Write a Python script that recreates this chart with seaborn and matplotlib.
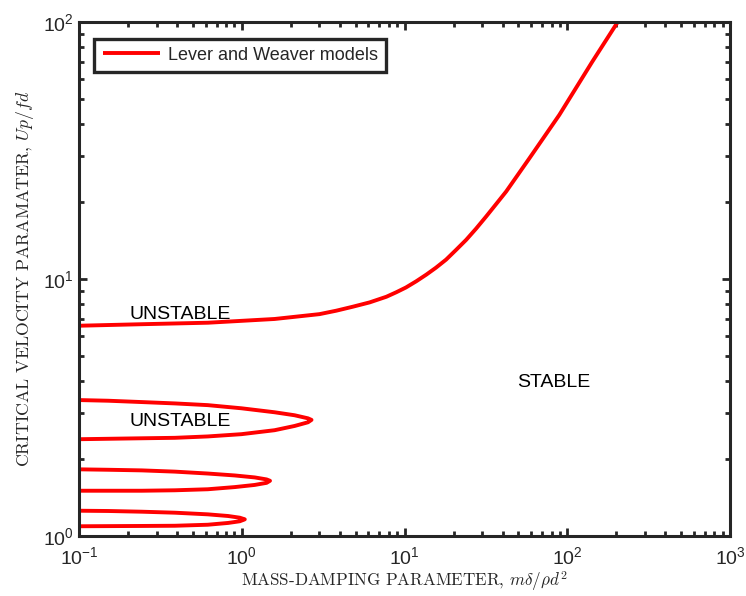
import matplotlib
matplotlib.use("Agg")
import matplotlib.pyplot as plt
import seaborn as sns

# Main stability boundary
main_x = [0.1, 0.243, 0.62, 1.59, 3.0, 3.81, 4.8, 6.10, 7.73, 8.89, 10.2, 11.8, 13.6, 15.6,
          18.0, 20.7, 23.9, 27.5, 31.7, 36.6, 42.1, 58.5, 89.3, 142, 204]
main_y = [6.58, 6.67, 6.76, 6.99, 7.3, 7.53, 7.8, 8.11, 8.53, 8.88, 9.27, 9.80, 10.4, 11.07,
          11.9, 12.97, 14.2, 15.7, 17.5, 19.6, 21.9, 29.5, 43.5, 69.9, 100]

# Lower instability loops
loop1_x = [0.1, 0.151, 0.243, 0.388, 0.618, 0.995, 1.59, 2.11, 2.55, 2.68,
           2.55, 2.11, 1.59, 0.995, 0.618, 0.388, 0.243, 0.1]
loop1_y = [3.38, 3.36, 3.32, 3.28, 3.23, 3.14, 3.03, 2.95, 2.87, 2.83,
           2.77, 2.68, 2.58, 2.49, 2.44, 2.41, 2.40, 2.38]

loop2_x = [0.1, 0.151, 0.243, 0.388, 0.618, 0.906, 1.20, 1.42, 1.49,
           1.42, 1.20, 0.906, 0.618, 0.388, 0.243, 0.1]
loop2_y = [1.817, 1.81, 1.80, 1.78, 1.75, 1.72, 1.69, 1.66, 1.64,
           1.61, 1.58, 1.55, 1.52, 1.506, 1.50, 1.50]

loop3_x = [0.1, 0.151, 0.243, 0.388, 0.618, 0.824, 0.972, 1.043,
           0.972, 0.824, 0.618, 0.388, 0.243, 0.1]
loop3_y = [1.254, 1.251, 1.243, 1.232, 1.214, 1.196, 1.178, 1.161,
           1.141, 1.124, 1.106, 1.096, 1.094, 1.091]

region_labels = ["UNSTABLE", "UNSTABLE", "STABLE"]
region_x = [0.42, 0.42, 83]
region_y = [7.3, 2.78, 3.94]

sns.set_theme(style="ticks")
plt.rcParams["font.family"] = ["Liberation Sans", "DejaVu Sans"]
plt.rcParams["mathtext.fontset"] = "cm"

fig = plt.figure(figsize=(7.46, 5.96), dpi=100)
ax = fig.add_axes([0.106, 0.1007, 0.8726, 0.8623])

red = "#ff0000"
lw = 2.8
style = dict(sort=False, estimator=None, color=red, lw=lw, ax=ax,
             solid_joinstyle="round", solid_capstyle="butt")
sns.lineplot(x=main_x, y=main_y, label="Lever and Weaver models", **style)
for lx, ly in [(loop1_x, loop1_y), (loop2_x, loop2_y), (loop3_x, loop3_y)]:
    sns.lineplot(x=lx, y=ly, **style)

ax.set_xscale("log")
ax.set_yscale("log")
ax.set_xlim(0.1, 1000)
ax.set_ylim(1, 100)

for t, xx, yy in zip(region_labels, region_x, region_y):
    ax.text(xx, yy, t, ha="center", va="center", fontsize=14, color="black")

ax.set_xlabel(r"MASS-DAMPING PARAMETER, $m\delta/\rho d^2$", fontfamily="cmr10",
              fontsize=12.3, color="#262626", labelpad=1)
ax.set_ylabel(r"CRITICAL VELOCITY PARAMATER, $Up/fd$", fontfamily="cmr10",
              fontsize=12.8, color="#262626", labelpad=5)

for s in ax.spines.values():
    s.set_linewidth(2.2)
    s.set_color("#262626")
    s.set_visible(True)

ax.tick_params(which="both", direction="in", top=True, right=True, color="#262626",
               width=2.0)
ax.tick_params(which="major", length=6, labelsize=14, labelcolor="#262626")
ax.tick_params(which="minor", length=3.5)
ax.tick_params(axis="x", which="major", pad=7)
ax.tick_params(axis="y", which="major", pad=4)

leg = ax.legend(loc="upper left", bbox_to_anchor=(0.018, 0.975), fontsize=13, frameon=True,
                fancybox=False, handlelength=3.2, borderpad=0.45, handletextpad=0.4,
                borderaxespad=0.2)
leg.get_frame().set_edgecolor("#262626")
leg.get_frame().set_linewidth(2.4)
leg.get_frame().set_alpha(1)

fig.savefig("out.png", dpi=100)
